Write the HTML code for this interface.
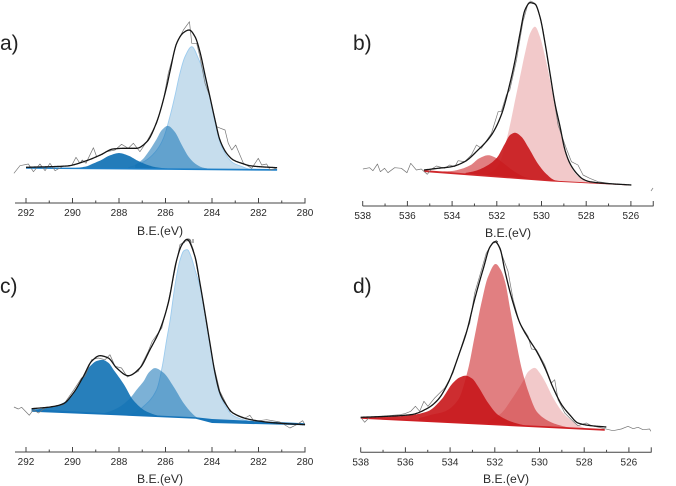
<!DOCTYPE html>
<html lang="en">
<head>
<meta charset="utf-8">
<title>XPS spectra panels</title>
<style>
html,body{margin:0;padding:0;background:#fff;}
svg{display:block;font-family:"Liberation Sans",Arial,sans-serif;}
.tick-label{font-size:10px;fill:#2a2a2a;text-anchor:middle;}
.axis-title{font-size:12.2px;fill:#2a2a2a;text-anchor:middle;}
.panel-label{font-size:21px;fill:#222;}
</style>
</head>
<body>
<svg id="chart" width="676" height="486" viewBox="0 0 676 486" xmlns="http://www.w3.org/2000/svg">
  <rect width="676" height="486" fill="#fff"/>
  <text class="panel-label" x="0" y="50">a)</text>
  <text class="panel-label" x="353" y="50">b)</text>
  <text class="panel-label" x="0" y="293">c)</text>
  <text class="panel-label" x="353" y="293">d)</text>
  <text class="axis-title" x="160" y="235">B.E.(eV)</text>
  <text class="axis-title" x="508" y="237">B.E.(eV)</text>
  <text class="axis-title" x="160" y="483">B.E.(eV)</text>
  <text class="axis-title" x="506" y="483">B.E.(eV)</text>
  <path d="M651 191l2-3" stroke="#888" stroke-width="0.8" fill="none"/>
  <path d="M184 243q1-4 4-4t3 4M193 243v-4" stroke="#555" stroke-width="0.9" fill="none"/>
  <path d="M494 243q1-1.500 4-1.500" stroke="#555" stroke-width="0.9" fill="none"/>
</svg>
<script>
// ---------- Panel a: C 1s ----------
const aTickLabels = [292,290,288,286,284,282,280];
const aMinorTicks = [291,289,287,285,283,281];
const aBaseE = [292,281.2];
const aBaseI = [350,335];
const aBandE = [292,281.2];
const aBandTop = [356,340];
const aBandBottom = [343,322];
const aMainE = [287.6,287.2,286.8,286.4,286.1,285.81,285.6,285.38,285.16,284.87,284.59,284.3,284.09,283.87,283.66,283.37,283.08,282.72,282.37,281.9];
const aMainI = [10,40,90,180,300,523,723,955,1123,1223,1107,920,712,471,272,134,62,28,3,0];
const aMidE = [287.3,287,286.7,286.4,286.15,285.9,285.6,285.3,285,284.7,284.4,284];
const aMidI = [40,90,180,290,390,430,370,240,120,50,15,0];
const aLowE = [290,289.7,289.4,289.1,288.8,288.4,288,287.6,287.2,286.8,286.4,286,285.6];
const aLowI = [0,8,20,50,80,130,155,130,80,40,15,5,0];
const aFitE = [292,290.25,289.4,288.8,288.25,287.8,287.25,286.8,286.4,285.95,285.81,285.52,285.23,284.98,284.73,284.52,284.3,284.09,283.87,283.66,283.37,283.08,282.72,282.37,281.95,281.2];
const aFitI = [357,370,423,480,540,547,547,613,797,1163,1313,1597,1703,1730,1663,1513,1280,1063,830,630,497,430,397,373,363,353];
const aRawE = [292.52,292.26,291.9,291.68,291.4,291.18,290.97,290.75,290.39,290.04,289.85,289.68,289.58,289.42,289.32,289.1,288.96,288.53,288.17,287.89,287.6,287.38,287.1,286.81,286.38,286.09,285.88,285.52,285.23,284.97,284.87,284.66,284.52,284.3,284.09,283.8,283.63,283.44,283.3,283.15,282.98,282.65,282.29,282.01,281.86,281.65,281.5,281.22];
const aRawI = [297,373,390,313,390,323,397,323,370,373,457,397,430,397,447,553,463,513,530,587,547,597,513,613,797,1030,1297,1597,1730,1813,1597,1597,1463,1197,1063,763,747,730,597,530,580,397,347,447,380,390,330,347];

// ---------- Panel b: O 1s ----------
const bTickLabels = [538,536,534,532,530,528,526];
const bMinorTicks = [537,535,533,531,529,527,525];
const bBaseE = [535.26,529.56,526];
const bBaseI = [347,250,210];
const bBandE = [535.26,529.56,526];
const bBandTop = [360,255,212];
const bBandBottom = [340,245,205];
const bMainE = [532.6,532.2,531.9,531.6,531.41,531.18,530.96,530.74,530.51,530.29,530.07,529.84,529.62,529.4,529.17,528.95,528.73,528.43,528.13,527.83];
const bMainI = [0,50,130,350,528,782,1019,1257,1461,1531,1435,1238,1009,745,514,297,170,73,26,0];
const bMidE = [533.4,533,532.5,532,531.65,531.4,531.17,530.9,530.6,530.16,529.8,529.41,529.1];
const bMidI = [15,40,95,190,333,430,455,420,323,163,70,10,0];
const bLowE = [535,534.5,534,533.5,533.14,532.8,532.36,532,531.65,531.2,530.75,530.3];
const bLowI = [0,12,25,60,103,170,210,185,133,65,20,0];
const bFitE = [535.26,534.63,534.03,533.44,532.84,532.24,531.8,531.41,531.18,530.96,530.74,530.51,530.29,530.07,529.84,529.62,529.4,529.17,528.95,528.73,528.43,528.13,527.83,527.17,525.98];
const bFitI = [360,377,393,443,560,710,910,1227,1460,1727,1960,2033,2020,1893,1627,1327,1027,793,560,427,327,267,243,227,210];
const bRawE = [537.99,537.69,537.54,537.34,537.21,537.02,536.87,536.57,536.27,536.02,535.85,535.6,535.38,535.11,534.93,534.7,534.33,534.11,533.88,533.73,533.44,533.14,532.91,532.69,532.24,531.94,531.8,531.57,531.42,531.12,530.83,530.6,530.48,530.3,530.15,529.93,529.71,529.48,529.26,528.92,528.66,528.37,528.14,527.84,527.47,527.17,526.72,525.98];
const bRawI = [370,383,353,420,343,377,333,383,377,333,427,360,370,317,367,400,377,410,393,453,443,510,610,577,727,943,943,1110,1160,1460,1843,2027,2050,2027,1960,1760,1443,1127,810,593,443,410,310,277,243,233,217,210];

// ---------- Panel c: C 1s ----------
const cTickLabels = [292,290,288,286,284,282,280];
const cMinorTicks = [291,289,287,285,283,281];
const cBaseE = [291.76,288.1,284.7,284,280];
const cBaseI = [407,373,340,297,273];
const cBandE = [291.76,288.1,284.7,284,280];
const cBandTop = [430,383,347,330,287];
const cBandBottom = [403,367,333,290,267];
const cMainE = [287.6,287.3,286.95,286.38,286.14,285.95,285.8,285.59,285.38,285.2,285.06,284.9,284.73,284.52,284.3,284.09,283.87,283.66,283.44,283.1,282.37,282];
const cMainI = [0,30,93,267,500,770,970,1320,1570,1670,1680,1610,1480,1324,1055,767,476,279,172,74,18,0];
const cMidE = [288.8,288.4,287.96,287.53,287.2,286.95,286.7,286.45,286.09,285.66,285.23,284.9,284.66,284.4];
const cMidI = [0,30,83,170,270,343,440,482,440,307,147,55,10,0];
const cLowE = [291.7,291.4,290.68,290.1,289.68,289.25,288.95,288.7,288.45,288.24,287.8,287.38,286.8,286.2,285.8];
const cLowI = [15,27,67,150,303,473,530,543,515,450,310,150,43,5,0];
const cFitE = [291.76,290.97,290.39,289.96,289.53,289.18,288.82,288.46,288.1,287.6,287.1,286.67,286.24,285.88,285.52,285.3,285.08,284.73,284.52,284.3,284.09,283.87,283.66,283.44,283.1,282.37,281.22,280];
const cFitI = [433,450,483,590,757,907,963,940,840,763,840,1023,1223,1490,1920,2070,2125,1953,1690,1390,1090,790,590,490,390,325,290,273];
const cRawE = [292.52,292.33,292.19,291.86,291.68,291.47,291.18,290.39,289.94,289.61,289.46,289.18,288.89,288.6,288.39,288.17,287.89,287.64,287.17,286.74,286.57,286.16,285.88,285.59,285.38,285.16,284.95,284.8,284.52,284.23,283.94,283.66,283.48,283.23,282.94,282.58,282.37,282.19,281.65,281.08,280.65,280.36,280.1,280];
const cRawI = [450,430,447,367,423,390,440,473,623,740,757,923,940,923,973,857,840,750,807,1007,1107,1240,1507,1823,2073,2107,2117,2023,1690,1273,880,607,523,407,373,340,367,307,323,300,240,273,313,273];

// ---------- Panel d: O 1s ----------
const dTickLabels = [538,536,534,532,530,528,526];
const dMinorTicks = [537,535,533,531,529,527,525];
const dBaseE = [538,527.08];
const dBaseI = [340,220];
const dBandE = [538,527.08];
const dBandTop = [350,233];
const dBandBottom = [336,216];
const dMainE = [535.4,534.84,534.24,533.64,533.2,532.9,532.6,532.3,531.96,531.75,531.54,531.32,531.1,530.8,530.5,530.12,529.68,529.3,528.8,528.3];
const dMainI = [30,70,110,233,540,877,1213,1480,1610,1560,1437,1174,909,579,349,153,75,40,15,0];
const dMidE = [532.3,531.7,531.26,530.74,530.5,530.21,530,529.75,529.38,528.93,528.6,528.28,527.8];
const dMidI = [30,123,260,450,550,590,545,457,295,150,86,40,0];
const dLowE = [537.9,537,536,535,534.39,533.87,533.55,533.3,533,532.75,532.3,531.86,531.1,530.4];
const dLowI = [10,25,47,103,227,400,460,478,450,377,217,103,30,0];
const dFitE = [538,536.78,535.73,534.99,534.54,534.09,533.56,533.26,532.89,532.51,532.21,531.99,531.77,531.54,531.24,530.87,530.5,530.12,529.75,529.38,529,528.64,528.28,527.68,527.01];
const dFitI = [350,360,377,443,527,693,1006,1206,1540,1840,2056,2106,2040,1806,1540,1290,1140,1006,840,640,473,373,293,266,253];
const dRawE = [538,537.82,537.6,536.78,536.26,536.03,535.76,535.55,535.36,535.17,534.99,534.69,534.24,533.87,533.35,533.12,532.9,532.68,532.38,532.15,531.93,531.71,531.41,531.18,530.89,530.51,530.36,530.14,529.77,529.47,529.32,529.17,528.87,528.57,528.28,527.9,527.68,527.08,526.71,526.34,526.04,525.81,525.59,525.37,525.07,525.02];
const dRawI = [350,300,353,366,376,386,410,460,410,510,460,543,643,793,1160,1293,1593,1760,1993,2076,2120,1993,1810,1526,1293,1160,1033,1026,876,693,726,526,393,326,266,293,266,236,216,233,260,236,250,226,233,210];

const NS = 'http://www.w3.org/2000/svg';
const svg = document.getElementById('chart');

// Piecewise-linear lookup, energies in any order
function linear(es, vs, e) {
  const pts = es.map((x, i) => [x, vs[i]]).sort((p, q) => p[0] - q[0]);
  if (e <= pts[0][0]) return pts[0][1];
  for (let i = 1; i < pts.length; i++) {
    if (e <= pts[i][0]) {
      const t = (e - pts[i - 1][0]) / (pts[i][0] - pts[i - 1][0]);
      return pts[i - 1][1] + t * (pts[i][1] - pts[i - 1][1]);
    }
  }
  return pts[pts.length - 1][1];
}

// Monotone cubic curve through the read values
function smoothSampler(es, vs) {
  const pts = es.map((x, i) => [x, vs[i]]).sort((p, q) => p[0] - q[0]);
  const n = pts.length, d = [], m = [];
  for (let i = 0; i < n - 1; i++) d.push((pts[i + 1][1] - pts[i][1]) / (pts[i + 1][0] - pts[i][0]));
  m[0] = d[0]; m[n - 1] = d[n - 2];
  for (let i = 1; i < n - 1; i++) {
    if (d[i - 1] * d[i] <= 0) m[i] = 0;
    else {
      const h0 = pts[i][0] - pts[i - 1][0], h1 = pts[i + 1][0] - pts[i][0];
      m[i] = (h0 + h1) * 3 / ((2 * h1 + h0) / d[i - 1] + (h1 + 2 * h0) / d[i]);
    }
  }
  return function (e) {
    if (e <= pts[0][0]) return pts[0][1];
    if (e >= pts[n - 1][0]) return pts[n - 1][1];
    let i = 0;
    while (e > pts[i + 1][0]) i++;
    const h = pts[i + 1][0] - pts[i][0], t = (e - pts[i][0]) / h;
    const t2 = t * t, t3 = t2 * t;
    return (2 * t3 - 3 * t2 + 1) * pts[i][1] + (t3 - 2 * t2 + t) * h * m[i] +
           (-2 * t3 + 3 * t2) * pts[i + 1][1] + (t3 - t2) * h * m[i + 1];
  };
}

function fineGrid(es) {
  const hi = Math.max(...es), lo = Math.min(...es), out = [];
  const steps = Math.ceil((hi - lo) / 0.04);
  for (let i = 0; i <= steps; i++) out.push(hi - (hi - lo) * i / steps);
  return out;
}

function make(tag, attrs) {
  const el = document.createElementNS(NS, tag);
  for (const k in attrs) el.setAttribute(k, attrs[k]);
  return el;
}

function toPath(points) {
  return points.map((p, i) => (i ? 'L' : 'M') + p[0].toFixed(2) + ' ' + p[1].toFixed(2)).join('');
}

function drawPanel(p) {
  const xOf = e => p.originX + (p.originE - e) * p.pxPerEv;
  const yOf = v => p.axisY - v * 0.1;
  const base = e => linear(p.baseE, p.baseI, e);

  // components, widest-background first
  p.components.forEach(c => {
    const sampler = smoothSampler(c.e, c.i);
    const grid = fineGrid(c.e);
    const top = grid.map(e => [xOf(e), yOf(base(e) + sampler(e))]);
    const bottom = grid.slice().reverse().map(e => [xOf(e), yOf(base(e))]);
    const el = make('path', { d: toPath(top.concat(bottom)) + 'Z', fill: p.color, 'fill-opacity': c.opacity });
    
    
    svg.appendChild(el);
    if (c.edge) {
      const edge = make('path', { d: toPath(top), fill: 'none', stroke: c.edge, 'stroke-width': 0.9 });
      
      
      svg.appendChild(edge);
    }
  });

  // background band under the peaks
  const bandTop = p.bandE.map((e, i) => [xOf(e), yOf(p.bandTop[i])]);
  const bandBottom = p.bandE.map((e, i) => [xOf(e), yOf(p.bandBottom[i])]).reverse();
  const band = make('path', { d: toPath(bandTop.concat(bandBottom)) + 'Z', fill: p.bandColor });
  
  
  svg.appendChild(band);

  // raw spectrum
  const raw = make('path', {
    d: toPath(p.rawE.map((e, i) => [xOf(e), yOf(p.rawI[i])])),
    fill: 'none', stroke: '#777', 'stroke-width': 0.7, 'stroke-linejoin': 'round'
  });
  
  
  svg.appendChild(raw);

  // fit envelope
  const fitS = smoothSampler(p.fitE, p.fitI);
  const fit = make('path', {
    d: toPath(fineGrid(p.fitE).map(e => [xOf(e), yOf(fitS(e))])),
    fill: 'none', stroke: '#151515', 'stroke-width': 1.3, 'stroke-linejoin': 'round'
  });
  
  
  svg.appendChild(fit);

  // axis
  const axis = make('line', { x1: p.axisStart, x2: p.axisEnd, y1: p.axisY, y2: p.axisY, stroke: '#444', 'stroke-width': 1 });
  
  
  svg.appendChild(axis);

  p.ticks.forEach(t => {
    const x = xOf(t);
    const tick = make('line', { x1: x, x2: x, y1: p.axisY, y2: p.axisY - 5, stroke: '#444', 'stroke-width': 1 });
    
    
    svg.appendChild(tick);
    const label = make('text', { x: x, y: p.axisY + 13, class: 'tick-label' });
    
    
    label.textContent = t;
    svg.appendChild(label);
  });
  p.minor.forEach((t, i) => {
    const x = xOf(t);
    const last = i === p.minor.length - 1 && t === 525;
    const tick = make('line', { x1: x, x2: x, y1: p.axisY, y2: p.axisY - (last ? 5 : 2.5), stroke: '#444', 'stroke-width': 1 });
    
    
    svg.appendChild(tick);
  });
}

drawPanel({
  id: 'panel-a', originE: 292, originX: 26, pxPerEv: 23.25, axisY: 203, axisStart: 15, axisEnd: 305.5,
  color: '#1071b4', bandColor: '#1f80c8',
  baseE: aBaseE, baseI: aBaseI, bandE: aBandE, bandTop: aBandTop, bandBottom: aBandBottom,
  fitE: aFitE, fitI: aFitI, rawE: aRawE, rawI: aRawI, ticks: aTickLabels, minor: aMinorTicks,
  components: [
    { name: 'main', e: aMainE, i: aMainI, opacity: 0.24, edge: '#9ccbee' },
    { name: 'middle', e: aMidE, i: aMidI, opacity: 0.55 },
    { name: 'low', e: aLowE, i: aLowI, opacity: 0.92 }
  ]
});
drawPanel({
  id: 'panel-b', originE: 538, originX: 362.7, pxPerEv: 22.35, axisY: 206, axisStart: 362.7, axisEnd: 653.5,
  color: '#c8161a', bandColor: '#d0282c',
  baseE: bBaseE, baseI: bBaseI, bandE: bBandE, bandTop: bBandTop, bandBottom: bBandBottom,
  fitE: bFitE, fitI: bFitI, rawE: bRawE, rawI: bRawI, ticks: bTickLabels, minor: bMinorTicks,
  components: [
    { name: 'main', e: bMainE, i: bMainI, opacity: 0.23 },
    { name: 'low', e: bLowE, i: bLowI, opacity: 0.55 },
    { name: 'middle', e: bMidE, i: bMidI, opacity: 0.9 }
  ]
});
drawPanel({
  id: 'panel-c', originE: 292, originX: 26, pxPerEv: 23.25, axisY: 452, axisStart: 15, axisEnd: 305.5,
  color: '#1071b4', bandColor: '#1674b9',
  baseE: cBaseE, baseI: cBaseI, bandE: cBandE, bandTop: cBandTop, bandBottom: cBandBottom,
  fitE: cFitE, fitI: cFitI, rawE: cRawE, rawI: cRawI, ticks: cTickLabels, minor: cMinorTicks,
  components: [
    { name: 'main', e: cMainE, i: cMainI, opacity: 0.24, edge: '#9ccbee' },
    { name: 'middle', e: cMidE, i: cMidI, opacity: 0.55 },
    { name: 'low', e: cLowE, i: cLowI, opacity: 0.9 }
  ]
});
drawPanel({
  id: 'panel-d', originE: 538, originX: 360.7, pxPerEv: 22.35, axisY: 452.3, axisStart: 360.7, axisEnd: 651.5,
  color: '#c8161a', bandColor: '#cf1f24',
  baseE: dBaseE, baseI: dBaseI, bandE: dBandE, bandTop: dBandTop, bandBottom: dBandBottom,
  fitE: dFitE, fitI: dFitI, rawE: dRawE, rawI: dRawI, ticks: dTickLabels, minor: dMinorTicks,
  components: [
    { name: 'right', e: dMidE, i: dMidI, opacity: 0.23 },
    { name: 'center', e: dMainE, i: dMainI, opacity: 0.55 },
    { name: 'low', e: dLowE, i: dLowI, opacity: 0.9 }
  ]
});
</script>
</body>
</html>
